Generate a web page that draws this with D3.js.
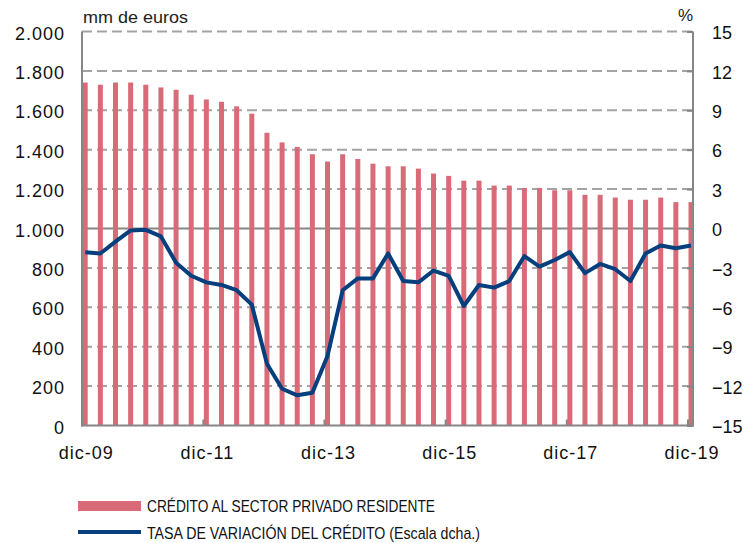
<!DOCTYPE html>
<html>
<head>
<meta charset="utf-8">
<script src="https://cdn.jsdelivr.net/npm/d3@7"></script>
<style>
	body { margin: 0; background: #fff; }
	svg { display: block; font-family: "Liberation Sans", Arial, Helvetica, sans-serif; }
</style>
</head>
<body>
<script>
// quarterly, dic-09 .. dic-19
const quarters = ["dic-09","mar-10","jun-10","sep-10","dic-10","mar-11","jun-11","sep-11","dic-11",
	"mar-12","jun-12","sep-12","dic-12","mar-13","jun-13","sep-13","dic-13",
	"mar-14","jun-14","sep-14","dic-14","mar-15","jun-15","sep-15","dic-15",
	"mar-16","jun-16","sep-16","dic-16","mar-17","jun-17","sep-17","dic-17",
	"mar-18","jun-18","sep-18","dic-18","mar-19","jun-19","sep-19","dic-19"]

// mm de euros
const credito = [1741,1730,1741,1741,1730,1716,1704,1679,1655,1643,1620,1583,1486,1437,1414,1377,1340,
	1377,1353,1329,1316,1316,1304,1279,1267,1243,1243,1218,1218,1206,1206,1194,1194,
	1171,1171,1157,1146,1146,1157,1134,1134]

// % (escala dcha.)
const tasa = [-1.8,-1.9,-1.0,-0.15,-0.1,-0.6,-2.6,-3.6,-4.1,-4.3,-4.7,-5.8,-10.3,-12.2,-12.7,-12.5,-9.7,
	-4.7,-3.8,-3.8,-1.9,-4.0,-4.1,-3.2,-3.6,-5.9,-4.3,-4.5,-4.0,-2.1,-2.9,-2.4,-1.8,
	-3.4,-2.7,-3.1,-4.0,-1.9,-1.3,-1.5,-1.3]

const xTickLabels = ["dic-09","dic-11","dic-13","dic-15","dic-17","dic-19"]
const leftTicks = [0,200,400,600,800,1000,1200,1400,1600,1800,2000]
const rightTicks = [-15,-12,-9,-6,-3,0,3,6,9,12,15]
const legendLabels = ["CRÉDITO AL SECTOR PRIVADO RESIDENTE", "TASA DE VARIACIÓN DEL CRÉDITO (Escala dcha.)"]

const width = 743, height = 543
const plotLeft = 82, plotRight = 693, plotTop = 31.5, plotBottom = 425.5
const barColor = "#d96b78", lineColor = "#053f7e", gridColor = "#a3a3a3", axisColor = "#868686"

const es = d3.formatLocale({decimal: ",", thousands: ".", grouping: [3], currency: ["", " €"]})
const fmt = es.format(",")

let svg = d3.select("body").append("svg").attr("width", width).attr("height", height)

let x = d3.scaleLinear().domain([0, quarters.length - 1]).range([85.2, 691])
let yL = d3.scaleLinear().domain([0, 2000]).range([plotBottom, plotTop])
let yR = d3.scaleLinear().domain([-15, 15]).range([plotBottom, plotTop])

// gridlines
svg.append("g").selectAll("line").data(leftTicks.filter(d => d > 0)).enter().append("line")
	.attr("x1", plotLeft).attr("x2", plotRight)
	.attr("y1", d => yL(d)).attr("y2", d => yL(d))
	.attr("stroke", d => d == 1000 ? axisColor : gridColor)
	.attr("stroke-width", 2)
	.attr("stroke-dasharray", d => d == 1000 ? null : "10,5")

// bars
svg.append("g").selectAll("rect").data(credito).enter().append("rect")
	.attr("x", (d, i) => x(i) - 2.5)
	.attr("width", 5)
	.attr("y", d => yL(d))
	.attr("height", d => plotBottom - yL(d))
	.attr("fill", barColor)

// axes lines
let axes = svg.append("g").attr("stroke", axisColor).attr("stroke-width", 2)
axes.append("line").attr("x1", plotLeft).attr("x2", plotLeft).attr("y1", plotTop).attr("y2", plotBottom + 1)
axes.append("line").attr("x1", plotRight).attr("x2", plotRight).attr("y1", plotTop).attr("y2", plotBottom + 1)
axes.append("line").attr("x1", plotLeft - 1).attr("x2", plotRight + 1).attr("y1", plotBottom).attr("y2", plotBottom)

// line
let line = d3.line().x((d, i) => x(i)).y(d => yR(d))
svg.append("path").datum(tasa)
	.attr("d", line)
	.attr("fill", "none")
	.attr("stroke", lineColor)
	.attr("stroke-width", 4)
	.attr("stroke-linejoin", "round")

// left axis
let leftAxis = svg.append("g").attr("transform", `translate(${plotLeft},0)`)
	.call(d3.axisLeft(yL).tickValues(leftTicks).tickFormat(fmt).tickSize(0).tickPadding(17))
leftAxis.select(".domain").remove()
leftAxis.selectAll("text").attr("font-size", 18).attr("letter-spacing", 1).attr("fill", "#111").attr("dy", "0.42em")

// right axis
let rightAxis = svg.append("g").attr("transform", `translate(${plotRight},0)`)
	.call(d3.axisRight(yR).tickValues(rightTicks).tickSizeInner(-6).tickSizeOuter(0).tickPadding(19))
rightAxis.select(".domain").remove()
rightAxis.selectAll("line").attr("stroke", axisColor).attr("stroke-width", 2)
rightAxis.selectAll("text").attr("font-size", 18).attr("fill", "#111").attr("dy", "0.4em")

// bottom ticks and labels
let xTickIdx = xTickLabels.map(l => quarters.indexOf(l))
svg.append("g").selectAll("line").data(xTickIdx).enter().append("line")
	.attr("x1", d => x(d) - 3).attr("x2", d => x(d) - 3)
	.attr("y1", plotBottom).attr("y2", plotBottom - 6)
	.attr("stroke", axisColor).attr("stroke-width", 2)
svg.append("g").selectAll("text").data(xTickIdx).enter().append("text")
	.attr("x", d => x(d) + 1)
	.attr("y", 459)
	.attr("text-anchor", "middle")
	.attr("font-size", 18).attr("letter-spacing", 1).attr("fill", "#111")
	.text(d => quarters[d])

// axis titles
svg.append("text").attr("x", 83).attr("y", 23).attr("font-size", 17).attr("fill", "#222")
	.attr("textLength", 105).attr("lengthAdjust", "spacingAndGlyphs").text("mm de euros")
svg.append("text").attr("x", 693).attr("y", 21).attr("font-size", 17).attr("fill", "#222")
	.attr("text-anchor", "end").text("%")

// legend
let legend = svg.append("g")
legend.append("rect").attr("x", 78).attr("y", 501).attr("width", 63).attr("height", 10).attr("fill", barColor)
legend.append("line").attr("x1", 78).attr("x2", 141).attr("y1", 532).attr("y2", 532)
	.attr("stroke", lineColor).attr("stroke-width", 4)
legend.append("text").attr("x", 147).attr("y", 512).attr("font-size", 17).attr("fill", "#111")
	.attr("textLength", 288).attr("lengthAdjust", "spacingAndGlyphs").text(legendLabels[0])
legend.append("text").attr("x", 147).attr("y", 539).attr("font-size", 17).attr("fill", "#111")
	.attr("textLength", 333).attr("lengthAdjust", "spacingAndGlyphs").text(legendLabels[1])
</script>
</body>
</html>
